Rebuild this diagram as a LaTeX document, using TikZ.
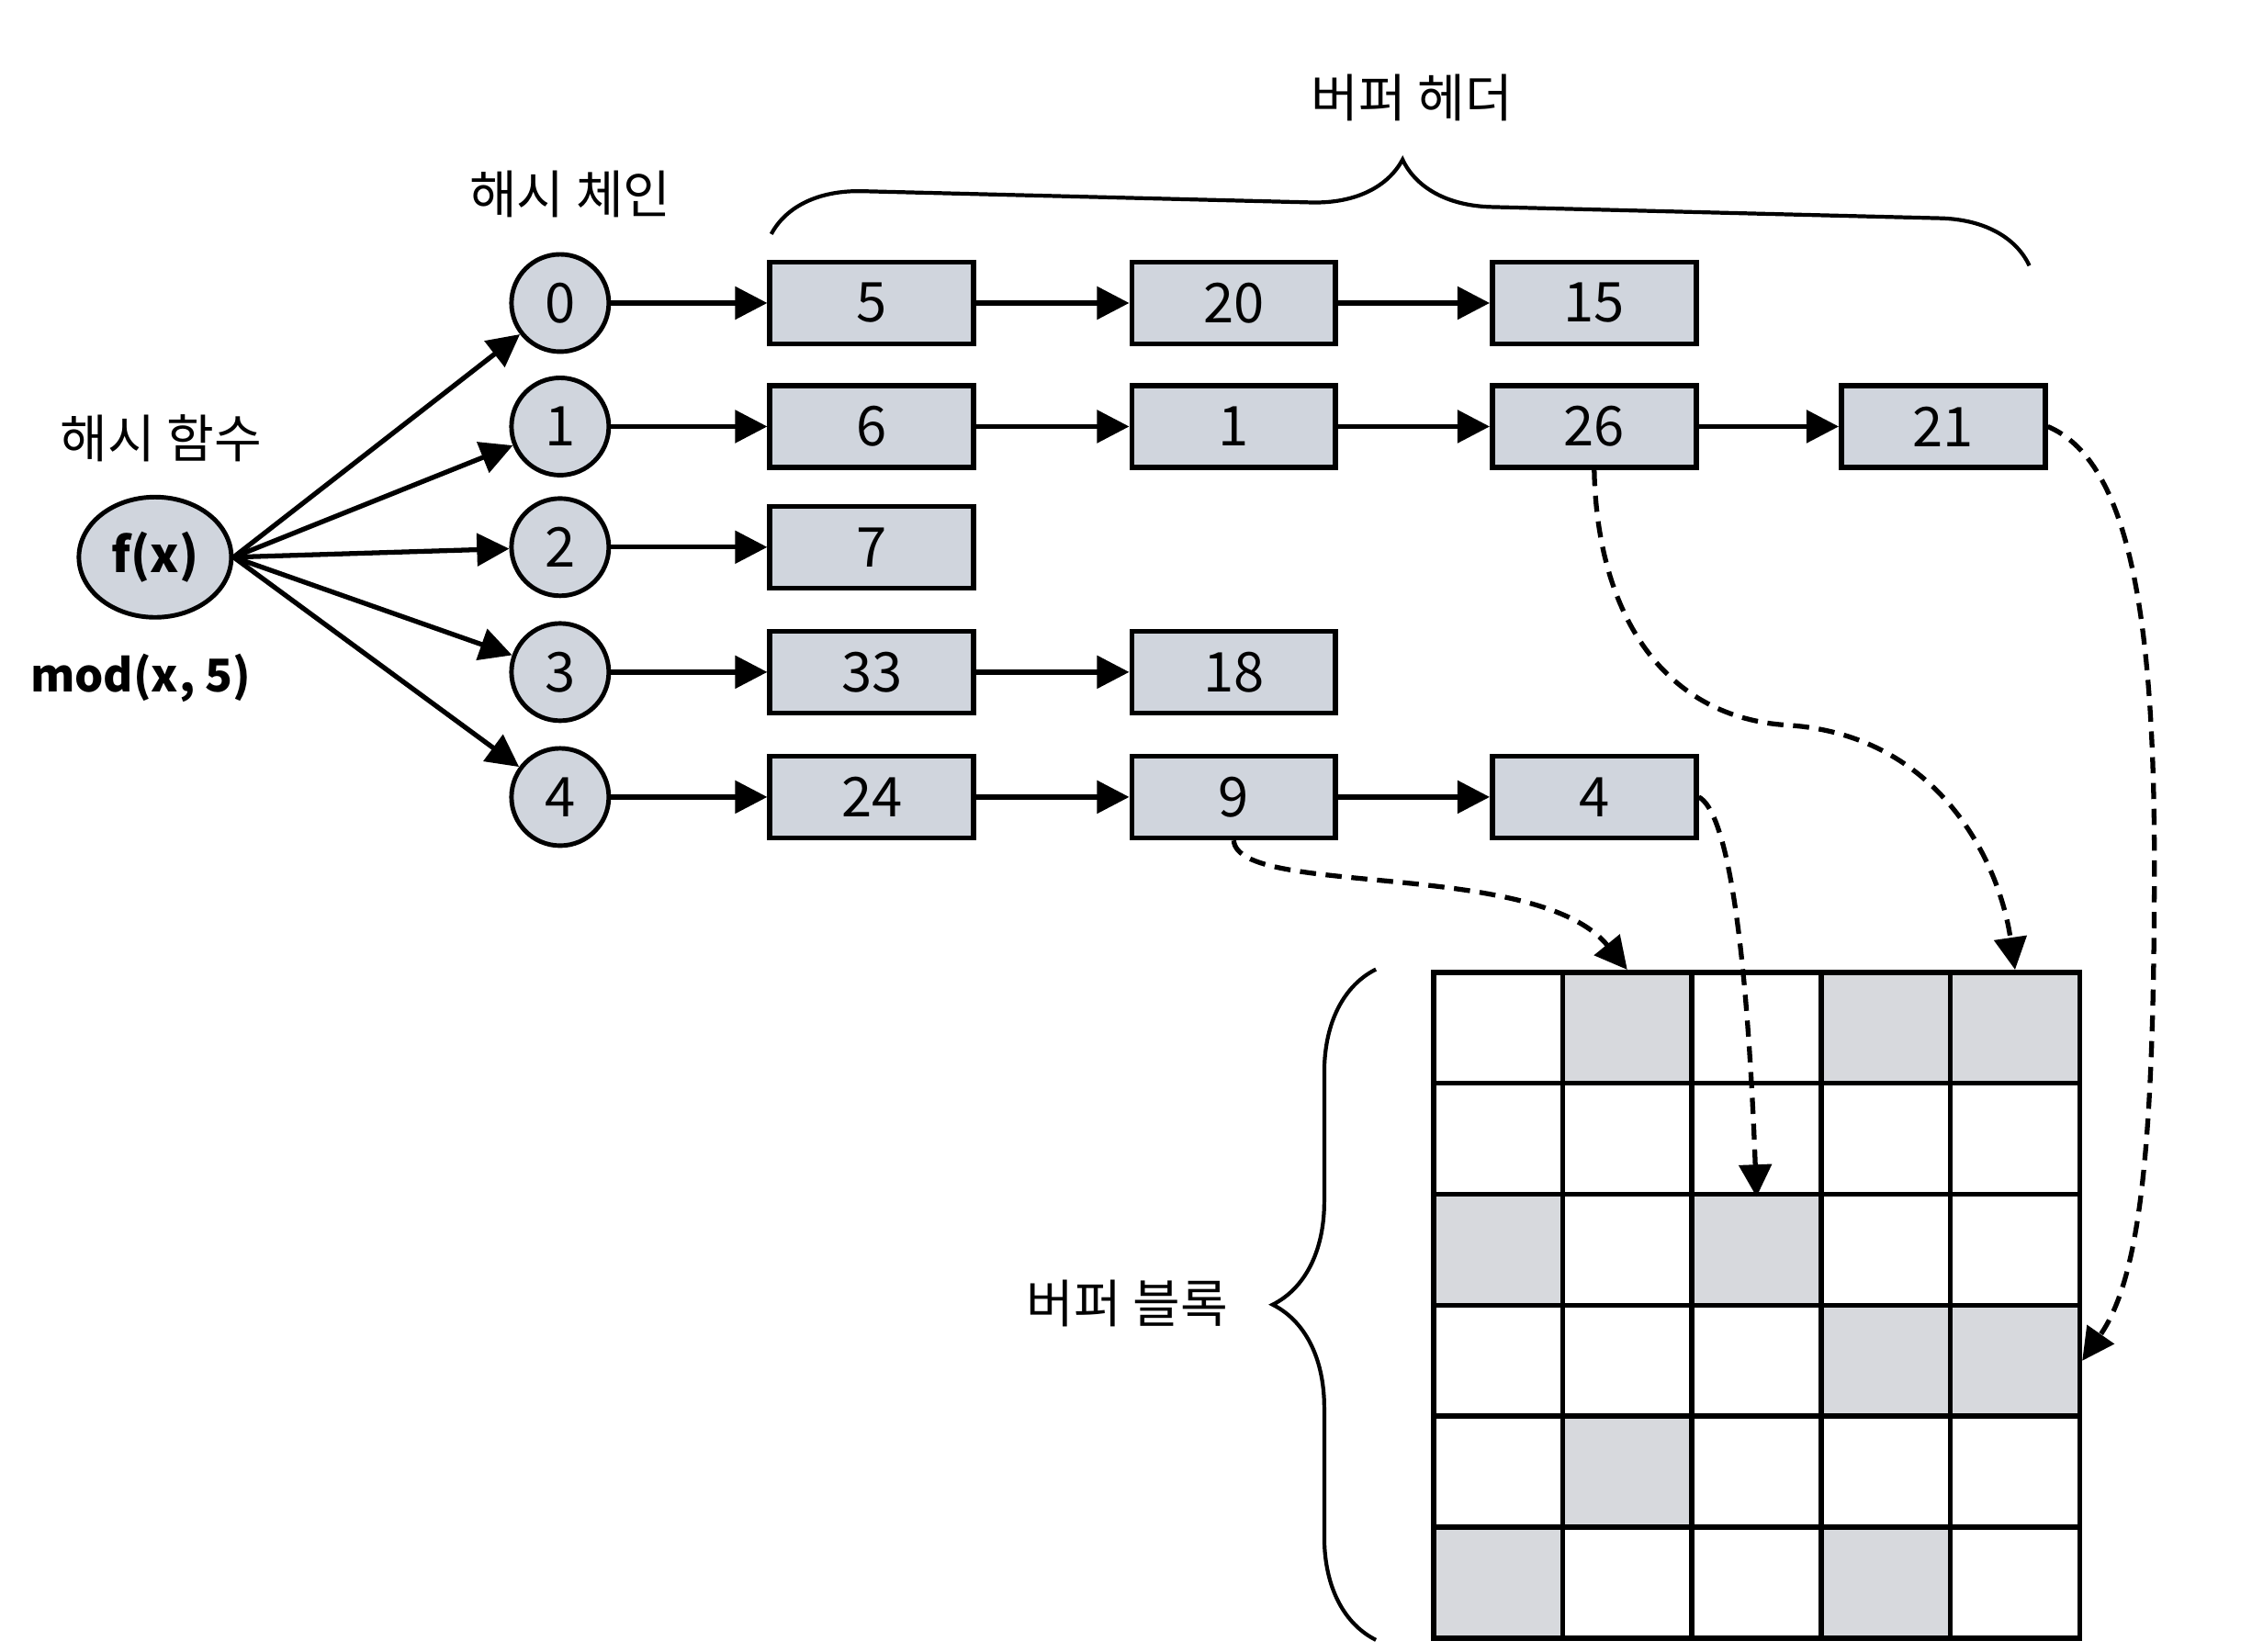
\documentclass[tikz,border=0pt]{standalone}
\usepackage{fontspec}
\setmainfont{Noto Sans CJK KR}
\usetikzlibrary{arrows.meta,decorations.pathreplacing,shapes.geometric}
\definecolor{boxfill}{RGB}{208,213,221}
\definecolor{cellfill}{RGB}{215,217,221}
\begin{document}
\begin{tikzpicture}[x=0.015638cm,y=-0.015638cm,
  every node/.style={font=\fontsize{17}{20}\selectfont},
  slot/.style={circle,draw,line width=1.4pt,fill=boxfill,minimum size=1.06cm,inner sep=0pt},
  hdr/.style={rectangle,draw,line width=1.6pt,fill=boxfill,minimum width=2.22cm,minimum height=0.89cm,inner sep=0pt},
  lab/.style={font=\fontsize{16}{19}\selectfont},
  link/.style={line width=1.5pt,-{Triangle[length=10pt,width=10pt]}},
  ptr/.style={line width=1.5pt,dash pattern=on 5pt off 3pt,-{Triangle[length=10pt,width=10pt]}},
  cell/.style={rectangle,draw,line width=1.6pt,minimum width=1.4074cm,minimum height=1.2088cm,inner sep=0pt},
  brc/.style={decorate,line width=1.2pt}
]
\useasboundingbox (0,0) rectangle (1568,1150);

% labels
\node[lab] (t-head) at (983,68) {버퍼 헤더};
\node[lab] (t-chain) at (397,135) {해시 체인};
\node[lab] (t-func) at (112,305) {해시 함수};
\node[font=\bfseries\fontsize{14}{17}\selectfont] (t-mod) at (98,472) {mod(x, 5)};
\node[lab] (t-block) at (785,908) {버퍼 블록};

% hash function
\node[ellipse,draw,line width=1.4pt,fill=boxfill,minimum width=1.66cm,minimum height=1.31cm,inner sep=0pt,font=\bfseries\fontsize{15}{18}\selectfont] (f) at (108,388) {f(x)};

% hash chain slots
\foreach \i/\y in {0/211,1/297,2/381,3/468,4/555}{
  \node[slot] (s\i) at (390,\y) {\i};
  \draw[link] (f.east) -- (s\i);
}

% buffer headers
\node[hdr] (b-0-0) at (607,211) {5};
\node[hdr] (b-0-1) at (859,211) {20};
\node[hdr] (b-0-2) at (1110,211) {15};
\node[hdr] (b-1-0) at (607,297) {6};
\node[hdr] (b-1-1) at (859,297) {1};
\node[hdr] (b-1-2) at (1110,297) {26};
\node[hdr] (b-1-3) at (1353,297) {21};
\node[hdr] (b-2-0) at (607,381) {7};
\node[hdr] (b-3-0) at (607,468) {33};
\node[hdr] (b-3-1) at (859,468) {18};
\node[hdr] (b-4-0) at (607,555) {24};
\node[hdr] (b-4-1) at (859,555) {9};
\node[hdr] (b-4-2) at (1110,555) {4};

\draw[link] (s0) -- (b-0-0);
\draw[link] (b-0-0) -- (b-0-1);
\draw[link] (b-0-1) -- (b-0-2);
\draw[link] (s1) -- (b-1-0);
\draw[link] (b-1-0) -- (b-1-1);
\draw[link] (b-1-1) -- (b-1-2);
\draw[link] (b-1-2) -- (b-1-3);
\draw[link] (s2) -- (b-2-0);
\draw[link] (s3) -- (b-3-0);
\draw[link] (b-3-0) -- (b-3-1);
\draw[link] (s4) -- (b-4-0);
\draw[link] (b-4-0) -- (b-4-1);
\draw[link] (b-4-1) -- (b-4-2);

% buffer blocks grid
\foreach \r/\pat in {0/{0,1,0,1,1},1/{0,0,0,0,0},2/{1,0,1,0,0},3/{0,0,0,1,1},4/{0,1,0,0,0},5/{1,0,0,1,0}}{
  \foreach \s [count=\c from 0] in \pat {
    \ifnum\s=1 \def\cf{cellfill}\else\def\cf{white}\fi
    \node[cell,fill=\cf] (c-\r-\c) at ({1043+90*\c},{715.7+77.3*\r}) {};
  }
}

% braces
\draw[brc,decoration={brace,amplitude=28pt}] (537,163) -- (1413,185);
\draw[brc,decoration={brace,amplitude=32pt}] (958,1142) -- (958,675);

% pointers to blocks
\draw[ptr] (b-4-1.south) .. controls (862,625) and (1070,598) .. (c-0-1.north);
\draw[ptr] (b-4-2.east) .. controls (1202,565) and (1216,650) .. (c-1-2.south);
\draw[ptr] (b-1-2.south) .. controls (1112,430) and (1160,500) .. (1245,505) .. controls (1350,512) and (1392,600) .. (c-0-4.north);
\draw[ptr] (b-1-3.east) .. controls (1480,320) and (1500,420) .. (1500,600) .. controls (1500,800) and (1490,890) .. (c-3-4.east);
\end{tikzpicture}
\end{document}
